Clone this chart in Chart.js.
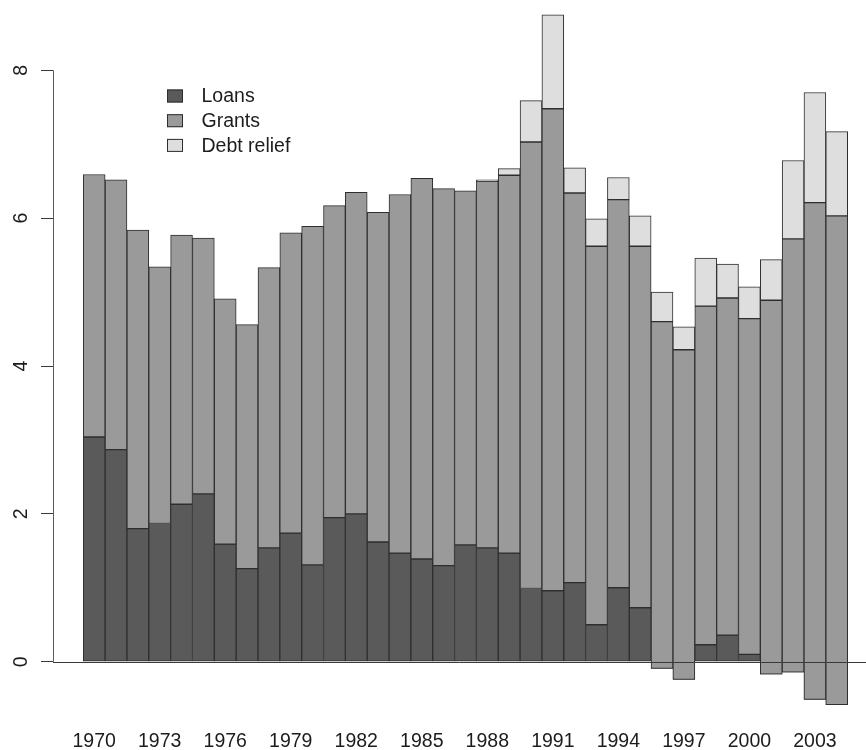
<!DOCTYPE html>
<html>
<head>
<meta charset="utf-8">
<script src="https://cdn.jsdelivr.net/npm/chart.js@4/dist/chart.umd.min.js"></script>
<style>
  html, body { margin: 0; padding: 0; background: #ffffff; }
  #wrap { width: 866px; height: 750px; }
</style>
</head>
<body>
<div id="wrap"><canvas id="c" width="866" height="750"></canvas></div>
<script>
// Aid flows by year, split into loans, grants and debt relief
const years = [1970, 1971, 1972, 1973, 1974, 1975, 1976, 1977, 1978, 1979,
               1980, 1981, 1982, 1983, 1984, 1985, 1986, 1987, 1988, 1989,
               1990, 1991, 1992, 1993, 1994, 1995, 1996, 1997, 1998, 1999,
               2000, 2001, 2002, 2003, 2004];
const loans = [3.04, 2.87, 1.80, 1.87, 2.13, 2.27, 1.59, 1.26, 1.54, 1.74,
               1.31, 1.95, 2.00, 1.62, 1.47, 1.39, 1.30, 1.58, 1.54, 1.47,
               0.99, 0.96, 1.07, 0.50, 1.00, 0.73, -0.09, -0.24, 0.23, 0.36,
               0.10, -0.17, -0.14, -0.51, -0.58];
const grants = [3.55, 3.65, 4.04, 3.47, 3.64, 3.46, 3.32, 3.30, 3.79, 4.06,
                4.58, 4.22, 4.35, 4.46, 4.85, 5.15, 5.10, 4.79, 4.96, 5.11,
                6.04, 6.52, 5.27, 5.12, 5.25, 4.89, 4.69, 4.46, 4.58, 4.56,
                4.54, 5.06, 5.86, 6.72, 6.61];
const debtRelief = [0, 0, 0, 0, 0, 0, 0, 0, 0, 0,
                    0, 0, 0, 0, 0, 0, 0, 0, 0.02, 0.09,
                    0.56, 1.27, 0.34, 0.37, 0.30, 0.41, 0.40, 0.31, 0.65, 0.46,
                    0.43, 0.55, 1.06, 1.49, 1.14];
const xTickYears = [1970, 1973, 1976, 1979, 1982, 1985, 1988, 1991, 1994, 1997, 2000, 2003];
const yTickValues = [0, 2, 4, 6, 8];

const FONT = "'Liberation Sans', Arial, Helvetica, sans-serif";
const TEXT = '#1c1c1c';
const EDGE = '#2e2e2e';

// Segments are stacked cumulatively in series order (loans, then grants on top
// of loans, then debt relief on top of both), even when loans are negative.
const loanSeg = years.map((yr, i) => ({ x: yr, y: [0, loans[i]] }));
const grantSeg = years.map((yr, i) => ({ x: yr, y: [loans[i], loans[i] + grants[i]] }));
const debtSeg = years.map((yr, i) => {
  const base = loans[i] + grants[i];
  return { x: yr, y: debtRelief[i] > 0 ? [base, base + debtRelief[i]] : null };
});

// Vertical axis line from 0 to 8, zero reference line, and the inset legend
const decorations = {
  id: 'decorations',
  afterDatasetsDraw(chart) {
    const { ctx, chartArea, scales } = chart;
    const y = scales.y;
    ctx.save();
    // axis line between first and last tick
    ctx.strokeStyle = '#5a5a5a';
    ctx.lineWidth = 1;
    const ax = Math.round(chartArea.left) + 0.5;
    ctx.beginPath();
    ctx.moveTo(ax, y.getPixelForValue(yTickValues[0]));
    ctx.lineTo(ax, y.getPixelForValue(yTickValues[yTickValues.length - 1]));
    ctx.stroke();
    // horizontal line at zero across the plot
    const zy = Math.round(y.getPixelForValue(0)) + 0.5;
    ctx.strokeStyle = '#3a3a3a';
    ctx.beginPath();
    ctx.moveTo(chartArea.left, zy);
    ctx.lineTo(chartArea.right, zy);
    ctx.stroke();

    // legend
    const lx = 167, ly = 89.5, step = 24.7, bw = 16, bh = 13;
    ctx.font = '19.5px ' + FONT;
    ctx.textBaseline = 'middle';
    ctx.textAlign = 'left';
    chart.data.datasets.forEach((ds, i) => {
      const top = ly + i * step;
      ctx.fillStyle = ds.backgroundColor;
      ctx.fillRect(lx, top, bw, bh);
      ctx.strokeStyle = EDGE;
      ctx.lineWidth = 1;
      ctx.strokeRect(lx + 0.5, top + 0.5, bw - 1, bh - 1);
      ctx.fillStyle = TEXT;
      ctx.fillText(ds.label, 201.5, top + bh / 2 + 1);
    });
    ctx.restore();
  }
};

const noPad = (s) => { s.paddingTop = 0; s.paddingBottom = 0; s.paddingLeft = 0; s.paddingRight = 0; };

new Chart(document.getElementById('c'), {
  type: 'bar',
  data: {
    datasets: [
      { label: 'Loans', data: loanSeg, backgroundColor: '#5a5a5a', order: 3 },
      { label: 'Grants', data: grantSeg, backgroundColor: '#9a9a9a', order: 2 },
      { label: 'Debt relief', data: debtSeg, backgroundColor: '#dedede', order: 1 }
    ]
  },
  options: {
    responsive: false,
    animation: false,
    devicePixelRatio: 1,
    layout: { padding: 0, autoPadding: false },
    datasets: {
      bar: {
        grouped: false,
        categoryPercentage: 1,
        barPercentage: 1,
        borderWidth: 1,
        borderColor: EDGE,
        borderSkipped: false
      }
    },
    plugins: {
      legend: { display: false },
      tooltip: { enabled: false }
    },
    scales: {
      x: {
        type: 'linear',
        offset: false,
        min: 1968.114,
        max: 2005.339,
        grid: { display: false, drawTicks: false, offset: false },
        border: { display: false },
        afterBuildTicks: (s) => { s.ticks = xTickYears.map(v => ({ value: v })); },
        afterFit: (s) => { s.height = 25; noPad(s); },
        ticks: {
          autoSkip: false,
          maxRotation: 0,
          minRotation: 0,
          padding: 5,
          color: TEXT,
          font: { family: FONT, size: 19.5 },
          callback: (v) => String(v)
        }
      },
      y: {
        min: -0.856,
        max: 8.951,
        border: { display: false },
        grid: { drawOnChartArea: false, drawTicks: true, tickLength: 12, tickColor: '#3a3a3a', lineWidth: 1 },
        afterBuildTicks: (s) => { s.ticks = yTickValues.map(v => ({ value: v })); },
        afterFit: (s) => { s.width = 53; noPad(s); },
        ticks: {
          minRotation: 90,
          maxRotation: 90,
          crossAlign: 'center',
          padding: 14,
          color: TEXT,
          font: { family: FONT, size: 19.5 }
        }
      }
    }
  },
  plugins: [decorations]
});
</script>
</body>
</html>
